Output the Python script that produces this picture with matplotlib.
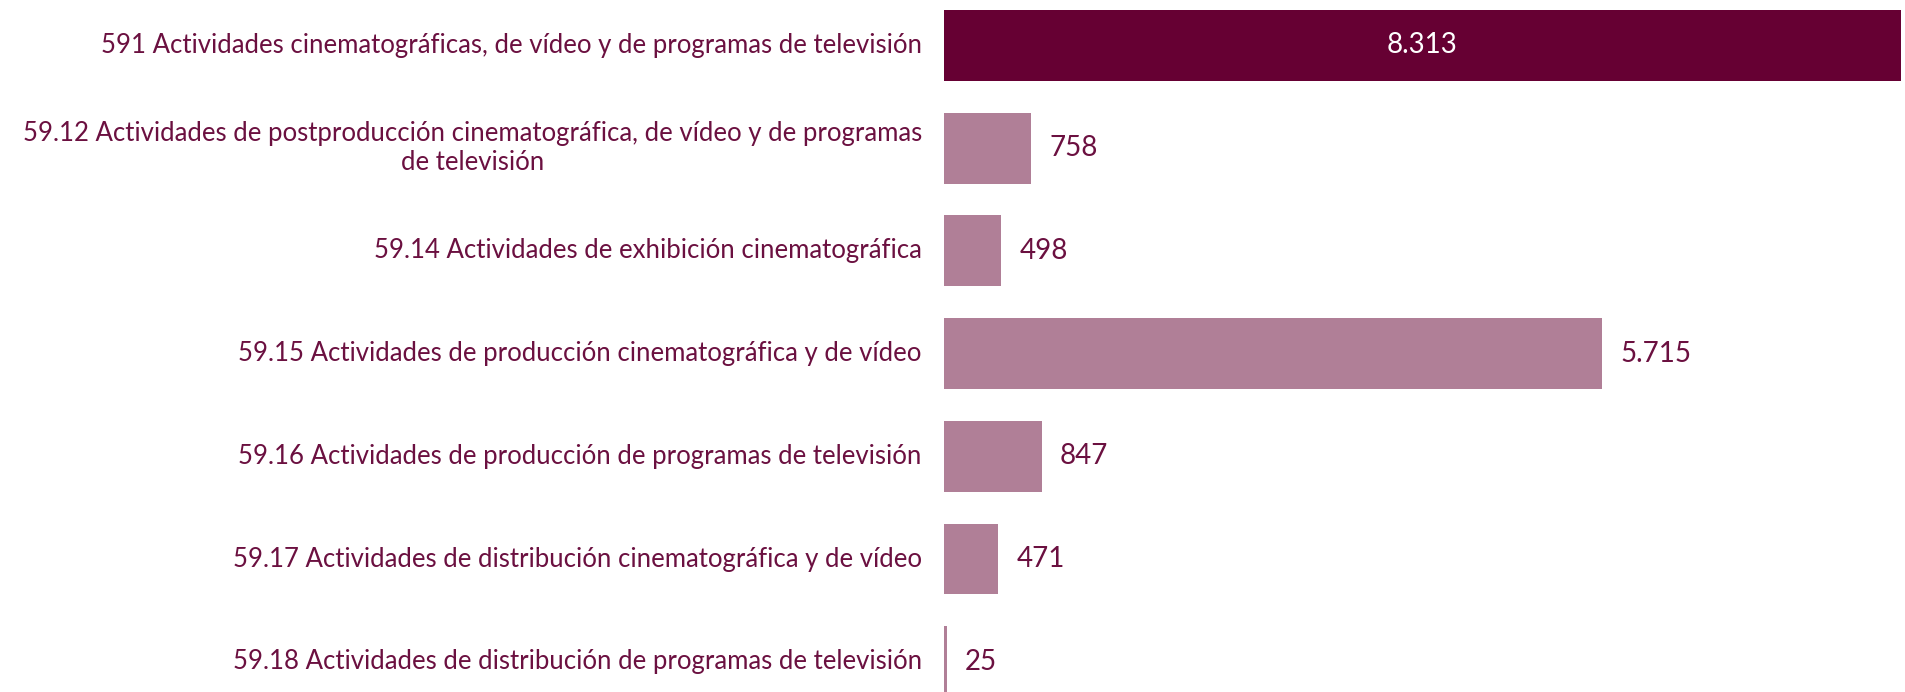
import matplotlib.pyplot as plt

# data
categories = [
    '591 Actividades cinematográficas, de vídeo y de programas de televisión',
    '59.12 Actividades de postproducción cinematográfica, de vídeo y de programas\nde televisión',
    '59.14 Actividades de exhibición cinematográfica',
    '59.15 Actividades de producción cinematográfica y de vídeo',
    '59.16 Actividades de producción de programas de televisión',
    '59.17 Actividades de distribución cinematográfica y de vídeo',
    '59.18 Actividades de distribución de programas de televisión',
]
values = [8313, 758, 498, 5715, 847, 471, 25]
value_labels = ['8.313', '758', '498', '5.715', '847', '471', '25']

dark = '#660033'
light = '#B07F97'
text_color = '#6B1040'
plt.rcParams['font.family'] = ['Lato', 'DejaVu Sans']

fig = plt.figure(figsize=(19.05, 6.92), dpi=100)
ax = fig.add_axes([944 / 1905, 0, (1901 - 944) / 1905, 1])

colors = [dark] + [light] * (len(values) - 1)
ypos = list(range(len(values)))
ax.barh(ypos, values, height=0.69, color=colors)

ax.set_xlim(0, values[0])
ax.set_ylim(6.295, -0.443)
ax.axis('off')

# category labels (right aligned, left of the axis)
for y, cat in zip(ypos, categories):
    ax.annotate(cat, xy=(0, y), xytext=(-16, 0), textcoords='offset points',
                ha='right', va='center', multialignment='center',
                fontsize=18.5, color=text_color)

# value labels
for i, (y, v, lab) in enumerate(zip(ypos, values, value_labels)):
    if i == 0:
        ax.text(v / 2, y, lab, ha='center', va='center', color='white',
                fontsize=20)
    else:
        ax.annotate(lab, xy=(v, y), xytext=(13, 0), textcoords='offset points',
                    ha='left', va='center', color=text_color, fontsize=20)

fig.savefig('out.png', dpi=100)
